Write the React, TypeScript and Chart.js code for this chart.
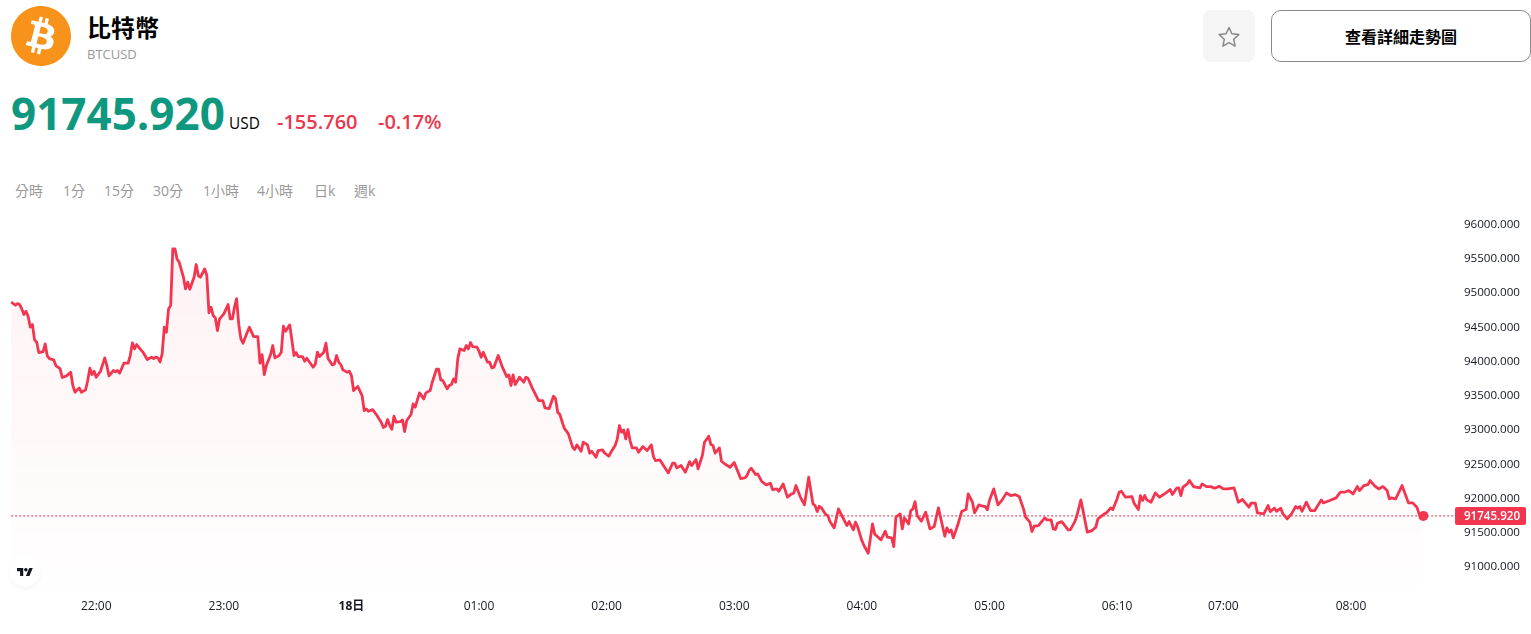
import React, { useEffect, useRef } from "react";
import { Chart, registerables } from "chart.js";

Chart.register(...registerables);

const FONT = '"Open Sans","Noto Sans CJK TC",sans-serif';
const RED = "#F23650";
const TEXT_RED = "#E8394F";

const barMinutes = [
0,1,2,3,4,5,6,7,8,9,10,11,12,13,15,16,17,18,20,21,23,24,26,28,29,30,32,33,35,36,37,38,39,40,42,44,45,46,48,49,50,51,53,55,56,57,58,59,61,62,64,66,67,68,69,70,71,72,73,74,75,76,77,78,79,81,82,83,84,86,87,88,89,91,92,93,94,95,96,97,98,100,102,103,104,105,106,107,108,109,111,112,114,116,117,118,119,120,122,123,124,126,127,128,129,131,133,134,135,137,138,139,142,143,144,145,147,148,149,151,152,153,154,155,156,158,159,160,161,163,165,166,167,168,
170,172,174,175,176,177,178,179,180,181,183,184,185,186,188,189,190,192,194,195,197,198,200,201,202,203,205,206,207,208,209,210,211,213,214,215,216,217,219,220,221,222,224,225,226,227,229,231,233,234,235,236,237,239,241,242,243,245,246,248,250,251,253,255,256,257,258,260,262,264,265,266,268,269,271,272,273,275,276,278,279,281,282,284,285,286,287,288,289,290,291,292,294,295,297,299,301,302,303,305,307,309,311,312,313,315,317,319,320,322,323,325,326,328,329,330,331,333,334,336,338,340,341,343,345,346,347,
348,349,350,351,353,355,357,358,360,361,363,365,367,368,369,371,373,375,377,378,379,380,381,383,384,385,387,389,390,393,394,396,397,398,400,401,403,405,406,409,411,412,414,415,416,418,419,420,422,423,424,425,426,428,430,432,434,436,439,440,441,442,443,445,447,449,450,452,453,455,456,458,459,460,462,464,466,468,470,472,474,476,477,479,480,481,483,486,487,489,490,491,492,494,497,498,500,501,503,506,508,510,511,514,515,517,518,520,521,
522,524,527,528,530,531,532,533,534,536,538,540,543,545,546,548,549,550,551,553,554,556,557,559,560,562,564,566,568,570,572,575,577,579,582,583,585,586,589,591,592,594,595,597,598,600,602,604,605,606,607,609,611,613,616,617,620,623,625,627,629,631,633,634,636,638,639,641,643,645,647,648,649,651,654,657,659,661,662,664];

const prices = [
94866,94846,94822,94846,94832,94768,94686,94734,94656,94501,94540,94316,94282,94131,94145,94257,94082,94043,94024,93941,93897,93766,93790,93844,93649,93552,93615,93552,93586,93722,93902,93809,93858,93771,93858,94053,93941,93790,93868,93848,93868,93829,93975,93975,94087,94272,94184,94248,94170,94136,94029,94063,94043,94063,94053,93994,94111,94501,94428,94768,94817,95644,95644,95498,95450,95231,95060,95158,95055,95231,95416,95255,95231,95352,95255,94710,94793,94671,94637,94452,94622,94695,94832,94622,94622,94793,94919,94549,94330,94267,94428,94501,94364,94364,93975,94101,93809,93941,94101,94233,94053,94087,94136,94515,94442,94535,94087,94131,94072,94072,94004,94048,93917,93965,94136,94072,94136,94267,94043,93951,93965,94087,93990,93955,93878,93844,93858,93795,93576,93634,93503,93284,93308,93274,
93298,93211,93114,93036,93055,93153,93065,93011,93201,93114,93123,93148,92977,93138,93226,93381,93333,93542,93454,93542,93576,93698,93887,93887,93732,93722,93600,93649,93664,93746,93698,94038,94184,94160,94233,94184,94277,94218,94209,94150,94063,94136,93990,93990,93907,93917,94087,93917,93780,93805,93649,93805,93664,93771,93698,93771,93756,93615,93552,93430,93430,93323,93313,93493,93454,93260,93226,93031,92943,92749,92715,92783,92690,92822,92783,92661,92690,92603,92700,92710,92666,92617,92676,92773,92870,93065,92968,93002,92870,93007,92846,92739,92739,92676,92758,92700,92783,92612,92554,92564,92466,92374,92515,92515,92447,92481,92384,92539,92481,92569,92432,92627,92822,92909,92787,92773,92661,92739,92544,92496,92457,92525,92447,92291,92301,92335,92408,
92442,92398,92350,92359,92247,92199,92223,92131,92140,92106,92213,92019,92067,92077,92189,92028,91907,92311,91921,91897,91809,91887,91863,91766,91751,91663,91571,91848,91785,91605,91663,91542,91654,91590,91386,91313,91201,91629,91483,91396,91522,91435,91425,91298,91727,91775,91556,91717,91629,91824,91848,91955,91751,91668,91800,91556,91590,91863,91449,91571,91508,91542,91425,91605,91814,91839,92067,91946,91790,91907,91897,91882,91834,91970,92140,91907,91980,92082,92043,92058,92028,91848,91727,91654,91517,91595,91605,91717,91688,91688,91556,91547,91639,91663,91542,91542,91654,91736,91980,91508,91527,91581,91702,91775,91790,91863,91839,91994,92092,
92106,92019,92028,91931,91839,92043,91970,92043,91980,91946,92082,92019,92082,92131,92058,92150,92155,92043,92165,92213,92262,92174,92165,92155,92213,92174,92174,92150,92179,92140,92140,92155,91946,91985,91873,91931,91931,91790,91775,91897,91809,91858,91814,91858,91775,91702,91775,91882,91858,91882,91814,91946,91824,91824,91980,91936,91970,92009,92092,92092,92116,92067,92174,92116,92189,92204,92262,92189,92140,92174,92116,91994,92009,91994,92189,91936,91936,91873,91775,91745.92];

const lastPrice = 91745.92;
const yTicks = [96000,95500,95000,94500,94000,93500,93000,92500,92000,91500,91000];
const xTickMinutes = [40,100,160,220,280,340,400,460,520,570,630];
const xTickLabels = ["22:00","23:00","18日","01:00","02:00","03:00","04:00","05:00","06:10","07:00","08:00"];
const tabs: [string, number][] = [["分時",15],["1分",63],["15分",104],["30分",153],["1小時",203],["4小時",257],["日k",314],["週k",354]];

const priceTagPlugin = {
  id: "priceTag",
  afterDraw(chart: any) {
    const { ctx, scales } = chart;
    const y = scales.y.getPixelForValue(lastPrice);
    ctx.save();
    ctx.fillStyle = RED;
    ctx.beginPath();
    ctx.roundRect(1455, y - 9, 71, 18, 2);
    ctx.fill();
    ctx.fillStyle = "#fff";
    ctx.font = `600 11.6px ${FONT}`;
    ctx.textAlign = "center";
    ctx.textBaseline = "middle";
    ctx.fillText(lastPrice.toFixed(3), 1492, y + 0.5);
    ctx.restore();
  },
};

function abs(left: number, top: number, extra: React.CSSProperties = {}): React.CSSProperties {
  return { position: "absolute", left, top, whiteSpace: "nowrap", ...extra };
}

export default function App() {
  const ref = useRef<HTMLCanvasElement>(null);
  useEffect(() => {
    const chart = new Chart(ref.current!, {
      type: "line",
      data: {
        datasets: [
          {
            data: barMinutes.map((m, i) => ({ x: m, y: prices[i] })),
            borderColor: RED,
            borderWidth: 2.8,
            borderJoinStyle: "round",
            tension: 0,
            fill: "start",
            backgroundColor: (c: any) => {
              const a = c.chart.chartArea;
              if (!a) return "rgba(242,59,80,0.05)";
              const g = c.chart.ctx.createLinearGradient(0, 40, 0, a.bottom - 4);
              g.addColorStop(0, "rgba(242,59,80,0.065)");
              g.addColorStop(1, "rgba(242,59,80,0.005)");
              return g;
            },
            pointRadius: (c: any) => (c.dataIndex === barMinutes.length - 1 ? 5 : 0),
            pointBackgroundColor: RED,
            pointBorderWidth: 0,
            order: 1,
          },
          {
            data: [{ x: 0, y: lastPrice }, { x: 679, y: lastPrice }],
            borderColor: "#C2334A",
            borderWidth: 1,
            borderDash: [2, 2],
            pointRadius: 0,
            fill: false,
            order: 2,
          },
        ],
      },
      options: {
        animation: false,
        responsive: false,
        layout: { padding: { top: 5, right: 11, left: 0, bottom: 0 } },
        plugins: { legend: { display: false }, tooltip: { enabled: false } },
        scales: {
          x: {
            type: "linear",
            min: -2.9,
            max: 678.9,
            border: { display: false },
            grid: { display: false },
            afterBuildTicks: (s: any) => { s.ticks = xTickMinutes.map((value) => ({ value })); },
            afterFit: (s: any) => { s.height = 44; s.paddingLeft = 0; s.paddingRight = 0; },
            ticks: {
              autoSkip: false,
              maxRotation: 0,
              padding: 1,
              color: "#131722",
              font: (c: any) => ({ family: FONT, size: 12, weight: c.index === 2 ? "bold" : "normal" }),
              callback: (_v: any, i: number) => xTickLabels[i],
            },
          },
          y: {
            position: "right",
            min: 90664,
            max: 96285,
            border: { display: false },
            grid: { display: false },
            afterBuildTicks: (s: any) => { s.ticks = yTicks.map((value) => ({ value })); },
            afterFit: (s: any) => { s.width = 65; s.paddingTop = 0; s.paddingBottom = 0; },
            ticks: {
              crossAlign: "far",
              color: "#131722",
              font: { family: FONT, size: 11.6 },
              callback: (v: any) => Number(v).toFixed(3),
            },
          },
        },
      },
      plugins: [priceTagPlugin],
    } as any);
    return () => chart.destroy();
  }, []);

  return (
    <div style={{ position: "absolute", left: 0, top: 0, width: 1531, height: 634, overflow: "hidden", background: "#fff", fontFamily: FONT }}>
      <svg style={abs(11, 6)} width={60} height={60} viewBox="0 0 64 64">
        <path fill="#F7931A" d="M63.04 39.741c-4.274 17.143-21.638 27.575-38.783 23.301C7.12 58.768-3.313 41.404.962 24.262 5.234 7.117 22.597-3.317 39.737.957c17.144 4.274 27.576 21.64 23.302 38.784z" />
        <path fill="#fff" d="M46.11 27.441c.636-4.258-2.606-6.547-7.039-8.074l1.438-5.768-3.512-.875-1.4 5.616c-.922-.23-1.87-.447-2.812-.662l1.41-5.653-3.509-.875-1.439 5.766c-.764-.174-1.514-.346-2.242-.527l.004-.018-4.842-1.209-.934 3.75s2.605.597 2.55.634c1.422.355 1.68 1.296 1.636 2.042l-1.638 6.571c.098.025.225.061.365.117l-.37-.092-2.297 9.205c-.174.432-.615 1.08-1.609.834.035.051-2.552-.637-2.552-.637l-1.743 4.02 4.57 1.139c.85.213 1.683.436 2.502.646l-1.453 5.835 3.507.875 1.44-5.772c.957.26 1.887.5 2.797.726L27.504 50.8l3.511.875 1.453-5.823c5.987 1.133 10.49.676 12.383-4.738 1.527-4.36-.075-6.875-3.225-8.516 2.294-.531 4.022-2.04 4.483-5.157zM38.087 38.69c-1.086 4.36-8.426 2.004-10.807 1.412l1.928-7.729c2.38.594 10.011 1.77 8.88 6.317zm1.085-11.312c-.99 3.966-7.1 1.951-9.083 1.457l1.748-7.01c1.983.494 8.367 1.416 7.335 5.553z" />
      </svg>
      <div style={abs(87, 10, { fontSize: 24, fontWeight: 700, lineHeight: "36px", color: "#000" })}>比特幣</div>
      <div style={abs(87, 45, { fontSize: 13, lineHeight: "18px", color: "#999" })}>BTCUSD</div>
      <div style={abs(11, 83, { fontSize: 44, fontWeight: 700, lineHeight: "60px", color: "#0F9880" })}>91745.920</div>
      <div style={abs(229, 113, { fontSize: 15.4, lineHeight: "22px", color: "#000" })}>USD</div>
      <div style={abs(277, 108, { fontSize: 20, fontWeight: 600, lineHeight: "28px", color: TEXT_RED })}>-155.760</div>
      <div style={abs(378, 108, { fontSize: 20, fontWeight: 600, lineHeight: "28px", color: TEXT_RED })}>-0.17%</div>
      {tabs.map(([t, x]) => (
        <div key={t} style={abs(x, 181, { fontSize: 14, lineHeight: "20px", color: "#999" })}>{t}</div>
      ))}
      <div style={abs(1203, 10, { width: 52, height: 52, borderRadius: 8, background: "#F5F5F5" })} />
      <svg style={abs(1217, 25)} width={24} height={24} viewBox="0 0 24 24">
        <path fill="none" stroke="#888" strokeWidth={1.5} strokeLinejoin="round" d="M12 2.5l2.9 6.3 6.9.8-5.1 4.7 1.4 6.8-6.1-3.4-6.1 3.4 1.4-6.8-5.1-4.7 6.9-.8z" />
      </svg>
      <div style={abs(1271, 10, { width: 260, height: 52, boxSizing: "border-box", border: "1px solid #8A8A8A", borderRadius: 10, textAlign: "center", lineHeight: "52px", fontSize: 16, fontWeight: 700, color: "#000" })}>查看詳細走勢圖</div>
      <canvas ref={ref} width={1531} height={434} style={abs(0, 200, { display: "block" })} />
      <div style={abs(10, 557, { width: 30, height: 30, borderRadius: 15, background: "#fff", boxShadow: "0 2px 4px rgba(0,0,0,0.04)" })} />
      <svg style={abs(17, 566)} width={16} height={13} viewBox="0 0 36 28">
        <path fill="#131722" d="M14 22H7V11H0V4h14v18zM28 22h-8l7.5-18h8L28 22z" />
        <circle cx="20" cy="8" r="4" fill="#131722" />
      </svg>
    </div>
  );
}
